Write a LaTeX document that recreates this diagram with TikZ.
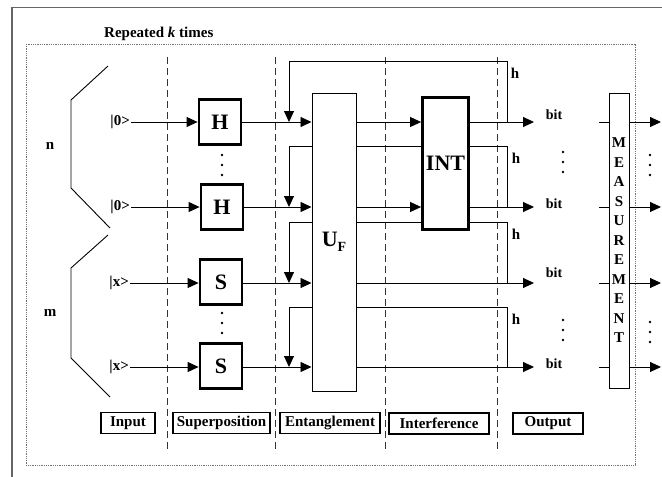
\documentclass[tikz,border=0pt]{standalone}
\usepackage{fontspec}
\setmainfont{Liberation Serif}
\usetikzlibrary{arrows.meta, positioning, calc}

\tikzset{
    gate/.style={draw, line width=2.8pt, fill=white, minimum width=42, minimum height=45,
        inner sep=0pt, font=\fontsize{22}{24}\selectfont\bfseries},
    blk/.style={draw, line width=1pt, fill=white, inner sep=0pt},
    lbl/.style={draw, line width=1.2pt, minimum height=21, inner sep=1pt},
    sep/.style={dash pattern=on 7pt off 4pt, line width=0.8pt, black!80},
    wire/.style={line width=0.9pt},
    arr/.style={wire, -{Triangle[length=11pt,width=10pt]}},
}

\begin{document}
\begin{tikzpicture}[x=1pt, y=-1pt, font=\fontsize{15}{18}\selectfont\bfseries]
    \useasboundingbox (0,0) rectangle (662,477);

    % Rahmen
    \draw[black!60, line width=1.5pt] (12,477) -- (12,7.5) -- (662,7.5);
    \draw[black!55, dash pattern=on 1pt off 0.8pt, line width=0.9pt] (26,44) rectangle (635,465);
    \node[anchor=west, inner sep=0pt] (rep) at (104,34) {Repeated \textit{k} times};

    % Phasengrenzen
    \foreach \x in {167,275,385,497} {
        \draw[sep] (\x,57) -- (\x,453);
    }

    % Klammern n und m
    \draw[wire] (108,66) -- (71,100) -- (71,188) -- (110,228);
    \draw[wire] (108,235) -- (71,268) -- (71,358) -- (110,397);
    \node (n) at (50,146) {n};
    \node (m) at (50,313) {m};

    % Hilfspunkte
    \coordinate (tapx) at (507,0);
    \coordinate (fbx) at (289,0);
    \coordinate (oend) at (534,0);
    \coordinate (min) at (599,0);
    \coordinate (mout) at (661,0);
    \coordinate (l1) at (0,61);
    \coordinate (l2) at (0,146);
    \coordinate (l3) at (0,222);
    \coordinate (l4) at (0,307);

    % Eingaenge
    \node[anchor=east, inner sep=1pt] (in1) at (131,122) {|0>};
    \node[anchor=east, inner sep=1pt] (in2) at (131,207) {|0>};
    \node[anchor=east, inner sep=1pt] (in3) at (130,283) {|x>};
    \node[anchor=east, inner sep=1pt] (in4) at (130,367) {|x>};

    % Rueckkopplungen h
    \draw[arr] (tapx |- 0,122) |- (fbx |- l1) -- (fbx |- 0,122);
    \draw[arr] (tapx |- 0,207) |- (fbx |- l2) -- (fbx |- 0,207);
    \draw[arr] (tapx |- 0,283) |- (fbx |- l3) -- (fbx |- 0,283);
    \draw[arr] (tapx |- 0,367) |- (fbx |- l4) -- (fbx |- 0,367);
    \node (h1) at (515,73) {h};
    \node (h2) at (516,158) {h};
    \node (h3) at (516,234) {h};
    \node (h4) at (516,319) {h};

    % Gatter
    \node[gate] (H1) at (220,122) {H};
    \node[gate] (H2) at (222,207) {H};
    \node[gate] (S1) at (221,282) {S};
    \node[gate] (S2) at (221,366) {S};
    \node[blk, minimum width=44, minimum height=298,
        font=\fontsize{22}{24}\selectfont\bfseries] (UF) at (334,242)
        {U\raisebox{-5pt}{\fontsize{14}{14}\selectfont F}};
    \node[gate, minimum width=46, minimum height=132] (INT) at (445.5,163.5) {INT};
    \node[blk, minimum width=20, minimum height=295, align=center,
        font=\fontsize{15}{19.5}\selectfont\bfseries] (meas) at (619,240.5)
        {M\\E\\A\\S\\U\\R\\E\\M\\E\\N\\T};

    % Leitungen
    \draw[arr] (in1) -- (H1);
    \draw[arr] (in2) -- (H2);
    \draw[arr] (in3) -- (in3 -| S1.west);
    \draw[arr] (in4) -- (in4 -| S2.west);
    \draw[arr] (H1) -- (H1 -| UF.west);
    \draw[arr] (H2) -- (H2 -| UF.west);
    \draw[arr] (in3 -| S1.east) -- (in3 -| UF.west);
    \draw[arr] (in4 -| S2.east) -- (in4 -| UF.west);
    \draw[arr] (UF.east |- H1) -- (INT.west |- H1);
    \draw[arr] (UF.east |- H2) -- (INT.west |- H2);
    \draw[arr] (INT.east |- H1) -- (oend |- H1);
    \draw[arr] (INT.east |- H2) -- (oend |- H2);
    \draw[arr] (UF.east |- in3) -- (oend |- in3);
    \draw[arr] (UF.east |- in4) -- (oend |- in4);

    % Ausgaenge
    \node[font=\fontsize{14}{16}\selectfont\bfseries] (b1) at (554,115) {bit};
    \node[font=\fontsize{14}{16}\selectfont\bfseries] (b2) at (554,204) {bit};
    \node[font=\fontsize{14}{16}\selectfont\bfseries] (b3) at (554,273) {bit};
    \node[font=\fontsize{14}{16}\selectfont\bfseries] (b4) at (554,364) {bit};

    % Messung
    \draw[wire] (min |- H1) -- (meas.west |- H1);
    \draw[wire] (min |- H2) -- (meas.west |- H2);
    \draw[wire] (min |- in3) -- (meas.west |- in3);
    \draw[wire] (min |- in4) -- (meas.west |- in4);
    \draw[arr] (meas.east |- H1) -- (mout |- H1);
    \draw[arr] (meas.east |- H2) -- (mout |- H2);
    \draw[arr] (meas.east |- in3) -- (mout |- in3);
    \draw[arr] (meas.east |- in4) -- (mout |- in4);

    % Punkte
    \foreach \x/\y in {222/155, 222/313, 563/152, 563/320, 650/155, 650/322} {
        \foreach \d in {0,10,20} {
            \fill (\x,\y+\d) circle (1.3pt);
        }
    }

    % Phasen
    \node[lbl, minimum width=54] (lin) at (128,423) {Input};
    \node[lbl, minimum width=97] (lsup) at (221.5,423) {Superposition};
    \node[lbl, minimum width=100] (lent) at (330,423) {Entanglement};
    \node[lbl, minimum width=100] (lint) at (439,423.5) {Interference};
    \node[lbl, minimum width=70] (lout) at (548,423.5) {Output};
\end{tikzpicture}
\end{document}
